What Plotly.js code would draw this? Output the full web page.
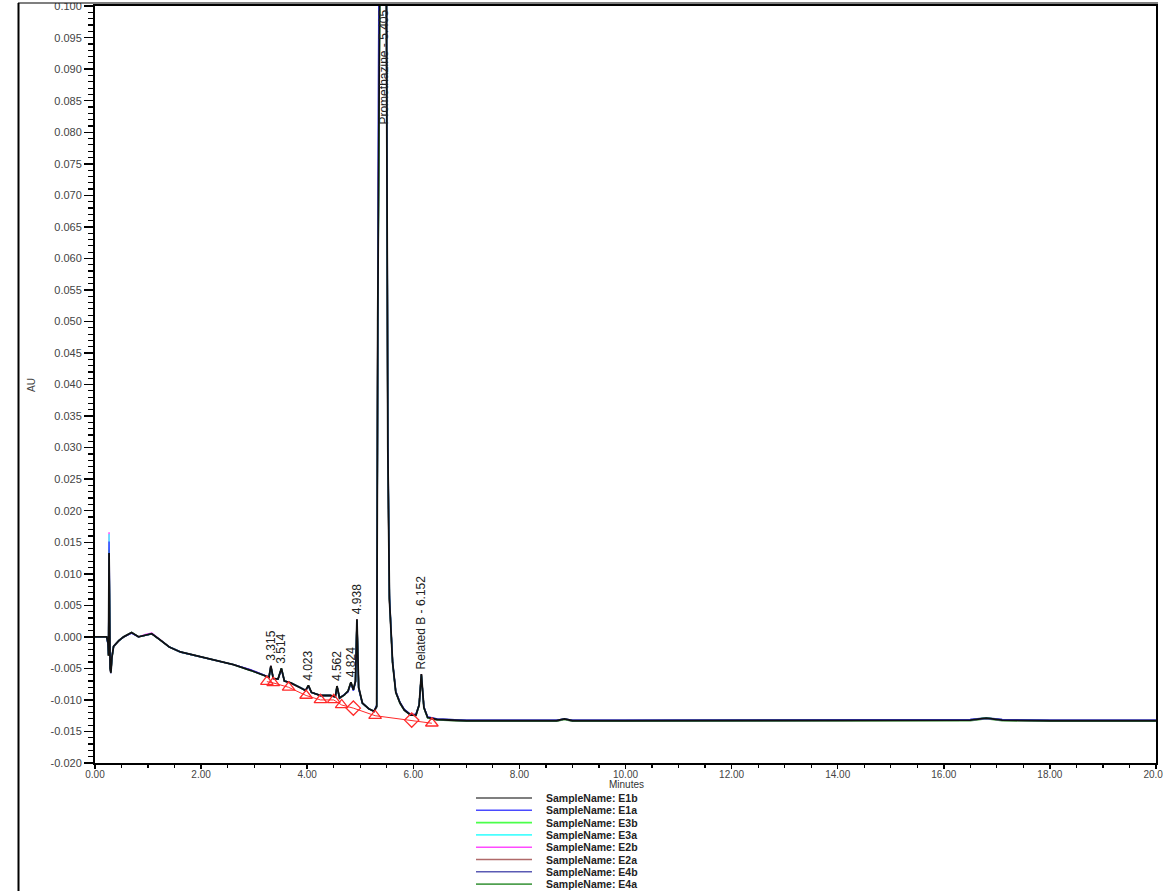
<!DOCTYPE html>
<html>
<head>
<meta charset="utf-8">
<script src="https://cdn.plot.ly/plotly-3.0.1.min.js"></script>
<style>
  html, body { margin: 0; padding: 0; background: #fff; }
  #chart { width: 1163px; height: 891px; }
</style>
</head>
<body>
<div id="chart"></div>
<script>
// ---------- DATA ----------
const minutes = [0.00, 0.22, 0.245, 0.255, 0.265, 0.275, 0.285, 0.30, 0.32, 0.35, 0.45, 0.54, 0.69, 0.82, 0.95, 1.07, 1.23, 1.40, 1.61, 1.98,
  2.30, 2.61, 2.93, 3.18, 3.28, 3.315, 3.36, 3.45, 3.514, 3.57, 3.69, 3.88, 3.97, 4.023, 4.08, 4.25, 4.44, 4.53, 4.562, 4.61,
  4.70, 4.77, 4.824, 4.87, 4.91, 4.938, 4.97, 5.04, 5.16, 5.26, 5.31, 5.33, 5.35, 5.42, 5.49, 5.52, 5.55, 5.61, 5.67, 5.75,
  5.83, 5.95, 6.05, 6.11, 6.152, 6.20, 6.27, 6.45, 7.00, 8.00, 8.70, 8.85, 9.00, 10.0, 12.0, 14.0, 15.5, 16.5, 16.8, 17.1,
  18.0, 20.0];

const sampleE1b = [0.0000, 0.0000, -0.0010, -0.0030, 0.0133, -0.0020, -0.0050, -0.0057, -0.0032, -0.0015, -0.0006, 0.0000, 0.0007, 0.0000, 0.0003, 0.0005, -0.0005, -0.0016, -0.0024, -0.0031,
  -0.0038, -0.0044, -0.0053, -0.0060, -0.0064, -0.0046, -0.0066, -0.0067, -0.0050, -0.0070, -0.0073, -0.0081, -0.0085, -0.0077, -0.0088, -0.0093, -0.0093, -0.0095, -0.0078, -0.0097,
  -0.0092, -0.0086, -0.0072, -0.0084, -0.0070, 0.0028, -0.0080, -0.0105, -0.0114, -0.0118, -0.0110, 0.0500, 0.1100, 0.1800, 0.1100, 0.0300, 0.0060, -0.0041, -0.0088, -0.0105,
  -0.0116, -0.0124, -0.0124, -0.0108, -0.0059, -0.0112, -0.0128, -0.0131, -0.0133, -0.0133, -0.0133, -0.0130, -0.0133, -0.0133, -0.0133, -0.0133, -0.0133, -0.0132, -0.0129, -0.0132,
  -0.0133, -0.0133];
const sampleE1a = [0.0000, 0.0000, -0.0012, -0.0028, 0.0151, -0.0022, -0.0048, -0.0055, -0.0031, -0.0015, -0.0006, 0.0000, 0.0006, 0.0000, 0.0003, 0.0005, -0.0005, -0.0016, -0.0024, -0.0031,
  -0.0038, -0.0044, -0.0052, -0.0060, -0.0064, -0.0047, -0.0066, -0.0067, -0.0051, -0.0070, -0.0073, -0.0081, -0.0085, -0.0078, -0.0088, -0.0093, -0.0093, -0.0095, -0.0079, -0.0097,
  -0.0092, -0.0087, -0.0073, -0.0085, -0.0072, 0.0025, -0.0082, -0.0105, -0.0114, -0.0118, -0.0108, 0.0450, 0.1050, 0.1750, 0.1150, 0.0320, 0.0065, -0.0040, -0.0087, -0.0104,
  -0.0115, -0.0123, -0.0123, -0.0108, -0.0061, -0.0111, -0.0127, -0.0130, -0.0132, -0.0132, -0.0132, -0.0130, -0.0132, -0.0132, -0.0132, -0.0132, -0.0132, -0.0131, -0.0129, -0.0131,
  -0.0132, -0.0132];
const sampleE3b = [0.0000, 0.0000, -0.0010, -0.0029, 0.0138, -0.0021, -0.0049, -0.0056, -0.0032, -0.0015, -0.0006, 0.0000, 0.0007, 0.0000, 0.0003, 0.0005, -0.0005, -0.0016, -0.0024, -0.0031,
  -0.0038, -0.0044, -0.0053, -0.0060, -0.0064, -0.0047, -0.0066, -0.0067, -0.0050, -0.0070, -0.0073, -0.0081, -0.0085, -0.0077, -0.0088, -0.0093, -0.0093, -0.0095, -0.0078, -0.0097,
  -0.0092, -0.0086, -0.0072, -0.0084, -0.0071, 0.0027, -0.0081, -0.0105, -0.0114, -0.0118, -0.0110, 0.0480, 0.1080, 0.1780, 0.1120, 0.0310, 0.0062, -0.0041, -0.0088, -0.0105,
  -0.0116, -0.0124, -0.0124, -0.0108, -0.0060, -0.0112, -0.0128, -0.0131, -0.0133, -0.0133, -0.0133, -0.0130, -0.0133, -0.0133, -0.0133, -0.0133, -0.0133, -0.0132, -0.0128, -0.0132,
  -0.0133, -0.0133];
const sampleE3a = [0.0000, 0.0000, -0.0011, -0.0028, 0.0163, -0.0021, -0.0049, -0.0056, -0.0031, -0.0015, -0.0006, 0.0000, 0.0007, 0.0000, 0.0003, 0.0005, -0.0005, -0.0016, -0.0024, -0.0031,
  -0.0038, -0.0044, -0.0053, -0.0060, -0.0064, -0.0047, -0.0066, -0.0067, -0.0050, -0.0070, -0.0073, -0.0081, -0.0085, -0.0078, -0.0088, -0.0093, -0.0093, -0.0095, -0.0079, -0.0097,
  -0.0092, -0.0086, -0.0073, -0.0084, -0.0071, 0.0026, -0.0081, -0.0105, -0.0114, -0.0118, -0.0109, 0.0470, 0.1070, 0.1770, 0.1130, 0.0315, 0.0063, -0.0041, -0.0088, -0.0105,
  -0.0116, -0.0124, -0.0124, -0.0108, -0.0060, -0.0112, -0.0128, -0.0131, -0.0133, -0.0133, -0.0133, -0.0130, -0.0133, -0.0133, -0.0133, -0.0133, -0.0133, -0.0132, -0.0129, -0.0132,
  -0.0133, -0.0133];
const sampleE2b = [0.0000, 0.0000, -0.0010, -0.0028, 0.0166, -0.0021, -0.0049, -0.0056, -0.0031, -0.0015, -0.0006, 0.0000, 0.0007, 0.0000, 0.0004, 0.0006, -0.0005, -0.0016, -0.0024, -0.0031,
  -0.0038, -0.0044, -0.0052, -0.0060, -0.0064, -0.0046, -0.0066, -0.0067, -0.0050, -0.0070, -0.0073, -0.0081, -0.0085, -0.0077, -0.0088, -0.0093, -0.0093, -0.0095, -0.0078, -0.0097,
  -0.0092, -0.0086, -0.0072, -0.0084, -0.0070, 0.0028, -0.0080, -0.0105, -0.0114, -0.0118, -0.0110, 0.0500, 0.1100, 0.1800, 0.1100, 0.0300, 0.0060, -0.0041, -0.0088, -0.0105,
  -0.0116, -0.0124, -0.0124, -0.0108, -0.0059, -0.0112, -0.0128, -0.0131, -0.0133, -0.0133, -0.0133, -0.0130, -0.0133, -0.0133, -0.0133, -0.0133, -0.0133, -0.0132, -0.0129, -0.0132,
  -0.0133, -0.0133];
const sampleE2a = [0.0000, 0.0000, -0.0010, -0.0030, 0.0135, -0.0020, -0.0050, -0.0057, -0.0032, -0.0015, -0.0006, 0.0000, 0.0007, 0.0000, 0.0003, 0.0005, -0.0005, -0.0016, -0.0024, -0.0031,
  -0.0038, -0.0044, -0.0053, -0.0060, -0.0064, -0.0046, -0.0066, -0.0067, -0.0050, -0.0070, -0.0073, -0.0081, -0.0085, -0.0077, -0.0088, -0.0093, -0.0093, -0.0095, -0.0078, -0.0097,
  -0.0092, -0.0086, -0.0072, -0.0084, -0.0070, 0.0028, -0.0080, -0.0105, -0.0114, -0.0118, -0.0110, 0.0500, 0.1100, 0.1800, 0.1100, 0.0300, 0.0060, -0.0041, -0.0088, -0.0105,
  -0.0116, -0.0124, -0.0124, -0.0108, -0.0059, -0.0112, -0.0128, -0.0131, -0.0133, -0.0133, -0.0133, -0.0130, -0.0133, -0.0133, -0.0133, -0.0133, -0.0133, -0.0132, -0.0129, -0.0132,
  -0.0133, -0.0133];
const sampleE4b = [0.0000, 0.0000, -0.0012, -0.0030, 0.0142, -0.0023, -0.0052, -0.0058, -0.0033, -0.0016, -0.0006, 0.0000, 0.0006, 0.0000, 0.0003, 0.0005, -0.0005, -0.0016, -0.0024, -0.0031,
  -0.0038, -0.0044, -0.0053, -0.0060, -0.0064, -0.0047, -0.0066, -0.0067, -0.0051, -0.0070, -0.0073, -0.0081, -0.0085, -0.0078, -0.0088, -0.0093, -0.0093, -0.0095, -0.0079, -0.0097,
  -0.0092, -0.0087, -0.0073, -0.0085, -0.0072, 0.0024, -0.0082, -0.0105, -0.0114, -0.0118, -0.0112, 0.0420, 0.1020, 0.1720, 0.1160, 0.0330, 0.0068, -0.0039, -0.0086, -0.0104,
  -0.0115, -0.0123, -0.0123, -0.0108, -0.0062, -0.0111, -0.0127, -0.0130, -0.0132, -0.0132, -0.0132, -0.0130, -0.0132, -0.0132, -0.0132, -0.0132, -0.0132, -0.0131, -0.0128, -0.0131,
  -0.0132, -0.0132];
const sampleE4a = [0.0000, 0.0000, -0.0010, -0.0029, 0.0136, -0.0021, -0.0050, -0.0056, -0.0032, -0.0015, -0.0006, 0.0000, 0.0007, 0.0000, 0.0003, 0.0005, -0.0005, -0.0016, -0.0024, -0.0031,
  -0.0038, -0.0044, -0.0053, -0.0060, -0.0064, -0.0046, -0.0066, -0.0067, -0.0050, -0.0070, -0.0073, -0.0081, -0.0085, -0.0077, -0.0088, -0.0093, -0.0093, -0.0095, -0.0078, -0.0097,
  -0.0092, -0.0086, -0.0072, -0.0084, -0.0070, 0.0027, -0.0080, -0.0105, -0.0114, -0.0118, -0.0110, 0.0490, 0.1090, 0.1790, 0.1110, 0.0305, 0.0061, -0.0041, -0.0088, -0.0105,
  -0.0116, -0.0124, -0.0125, -0.0109, -0.0060, -0.0113, -0.0129, -0.0132, -0.0134, -0.0134, -0.0134, -0.0131, -0.0134, -0.0134, -0.0134, -0.0134, -0.0134, -0.0133, -0.0130, -0.0133,
  -0.0134, -0.0134];

const sampleNames = ['E1b', 'E1a', 'E3b', 'E3a', 'E2b', 'E2a', 'E4b', 'E4a'];
const sampleValues = [sampleE1b, sampleE1a, sampleE3b, sampleE3a, sampleE2b, sampleE2a, sampleE4b, sampleE4a];

// Integrated peaks (retention time, apex value, label)
const peakTimes  = [3.315, 3.514, 4.023, 4.562, 4.824, 4.938, 6.152];
const peakApex   = [-0.0046, -0.0050, -0.0077, -0.0078, -0.0072, 0.0028, -0.0059];
const peakLabels = ['3.315', '3.514', '4.023', '4.562', '4.824', '4.938', 'Related B - 6.152'];
const mainPeakTime  = 5.43;
const mainPeakLabel = 'Promethazine - 5.405';

// Integration baseline events (time, value, kind: T = triangle, D = drop/diamond)
const baselineTimes  = [3.24, 3.36, 3.65, 3.98, 4.25, 4.50, 4.65, 4.87, 5.28, 5.97, 6.35];
const baselineValues = [-0.0071, -0.0073, -0.0080, -0.0093, -0.0100, -0.0100, -0.0108, -0.0113, -0.0125, -0.0132, -0.0137];
const baselineKinds  = ['T', 'T', 'T', 'T', 'T', 'T', 'T', 'D', 'T', 'D', 'T'];

// Tick labels
const xTickVals = [0, 2, 4, 6, 8, 10, 12, 14, 16, 18, 20];
const xTickText = ['0.00', '2.00', '4.00', '6.00', '8.00', '10.00', '12.00', '14.00', '16.00', '18.00', '20.00'];
const yTickVals = [-0.020, -0.015, -0.010, -0.005, 0.000, 0.005, 0.010, 0.015, 0.020, 0.025, 0.030, 0.035, 0.040, 0.045,
  0.050, 0.055, 0.060, 0.065, 0.070, 0.075, 0.080, 0.085, 0.090, 0.095, 0.100];
const yTickText = ['-0.020', '-0.015', '-0.010', '-0.005', '0.000', '0.005', '0.010', '0.015', '0.020', '0.025', '0.030', '0.035', '0.040', '0.045',
  '0.050', '0.055', '0.060', '0.065', '0.070', '0.075', '0.080', '0.085', '0.090', '0.095', '0.100'];

// ---------- STYLE ----------
const W = 1163, H = 891;
const M = { l: 95, r: 7, t: 6, b: 128 };
const PW = W - M.l - M.r, PH = H - M.t - M.b;
const px2x = p => (p - M.l) / PW;
const px2y = p => (H - M.b - p) / PH;

const lineColors = ['#111111', '#3c3cff', '#3cff3c', '#3cffff', '#ff3cff', '#b05a5a', '#4c4cb0', '#3c9c3c'];
const legendColors = ['#555555', '#4a4aff', '#4aff4a', '#4affff', '#ff4aff', '#b06a6a', '#5a5ab4', '#50a050'];
const FONT = 'Liberation Sans, Arial, sans-serif';

const traces = [];
// draw in reverse so E1b is on top
for (let i = sampleNames.length - 1; i >= 0; i--) {
  traces.push({
    type: 'scatter', mode: 'lines',
    x: minutes, y: sampleValues[i],
    name: 'SampleName: ' + sampleNames[i],
    line: { color: lineColors[i], width: i === 0 ? 1.8 : 1.4 },
    showlegend: false, hoverinfo: 'skip'
  });
}
traces.push({
  type: 'scatter', mode: 'lines+markers',
  x: baselineTimes, y: baselineValues,
  line: { color: '#ff2a2a', width: 1 },
  marker: {
    symbol: baselineKinds.map(k => k === 'D' ? 'diamond-open' : 'triangle-up-open'),
    size: 11, color: '#ff2a2a', line: { width: 1.3, color: '#ff2a2a' }
  },
  showlegend: false, hoverinfo: 'skip'
});

const annotations = [];
peakTimes.forEach((t, i) => {
  annotations.push({
    x: t, y: peakApex[i], xref: 'x', yref: 'y',
    text: peakLabels[i], textangle: -90, showarrow: false,
    xanchor: 'center', yanchor: 'bottom', yshift: 3,
    font: { family: FONT, size: 12, color: '#222' }
  });
});
annotations.push({
  x: mainPeakTime, y: 1, xref: 'x', yref: 'paper',
  text: mainPeakLabel, textangle: -90, showarrow: false,
  xanchor: 'center', yanchor: 'top', yshift: -2,
  font: { family: FONT, size: 12, color: '#222' }
});
// axis titles
annotations.push({
  x: px2x(31), y: px2y(385), xref: 'paper', yref: 'paper',
  text: 'AU', textangle: -90, showarrow: false,
  xanchor: 'center', yanchor: 'middle',
  font: { family: FONT, size: 10, color: '#444' }
});
annotations.push({
  x: px2x(626), y: px2y(785), xref: 'paper', yref: 'paper',
  text: 'Minutes', showarrow: false,
  xanchor: 'center', yanchor: 'middle', borderpad: 0,
  font: { family: FONT, size: 10, color: '#333' }
});

const shapes = [];
// custom legend
sampleNames.forEach((n, i) => {
  const yy = 798 + 12.3 * i;
  shapes.push({
    type: 'line', xref: 'paper', yref: 'paper',
    x0: px2x(476), x1: px2x(532), y0: px2y(yy), y1: px2y(yy),
    line: { color: legendColors[i], width: 1.6 }
  });
  annotations.push({
    x: px2x(545), y: px2y(yy), xref: 'paper', yref: 'paper',
    text: 'SampleName: ' + n, showarrow: false,
    xanchor: 'left', yanchor: 'middle', borderpad: 0,
    font: { family: FONT, size: 10.5, color: '#222', weight: 'bold' }
  });
});
// outer frame
shapes.push({ type: 'rect', xref: 'paper', yref: 'paper', layer: 'above',
  x0: px2x(0), x1: px2x(W), y0: px2y(3), y1: px2y(0), fillcolor: '#fff', line: { width: 0 } });
shapes.push({ type: 'line', xref: 'paper', yref: 'paper', layer: 'above',
  x0: px2x(18), x1: px2x(1158), y0: px2y(3), y1: px2y(3), line: { color: '#000', width: 1.2 } });
shapes.push({ type: 'line', xref: 'paper', yref: 'paper', layer: 'above',
  x0: px2x(18.5), x1: px2x(18.5), y0: px2y(3), y1: px2y(H), line: { color: '#000', width: 2 } });

const layout = {
  width: W, height: H,
  margin: M,
  paper_bgcolor: '#fff', plot_bgcolor: '#fff',
  showlegend: false,
  font: { family: FONT },
  xaxis: {
    range: [0, 20.0005], tickmode: 'array', tickvals: xTickVals, ticktext: xTickText,
    ticks: 'outside', ticklen: 4, tickwidth: 1.5, tickcolor: '#000',
    ticklabeloverflow: 'allow', ticklabelstandoff: -3,
    showline: true, linecolor: '#000', linewidth: 2, mirror: true,
    showgrid: false, zeroline: false,
    tickfont: { family: FONT, size: 10, color: '#444' },
    minor: { dtick: 0.5, tick0: 0, ticks: 'outside', ticklen: 3, tickwidth: 1.2, tickcolor: '#000', showgrid: false }
  },
  yaxis: {
    range: [-0.020, 0.10002], tickmode: 'array', tickvals: yTickVals, ticktext: yTickText,
    ticks: 'outside', ticklen: 9, tickwidth: 1.5, tickcolor: '#000',
    ticklabeloverflow: 'allow',
    showline: true, linecolor: '#000', linewidth: 2, mirror: true,
    showgrid: false, zeroline: false,
    tickfont: { family: FONT, size: 11, color: '#444' },
    minor: { dtick: 0.001, tick0: 0, ticks: 'outside', ticklen: 5, tickwidth: 1.2, tickcolor: '#000', showgrid: false }
  },
  annotations: annotations,
  shapes: shapes
};

Plotly.newPlot('chart', traces, layout, { staticPlot: true, displayModeBar: false });
</script>
</body>
</html>
